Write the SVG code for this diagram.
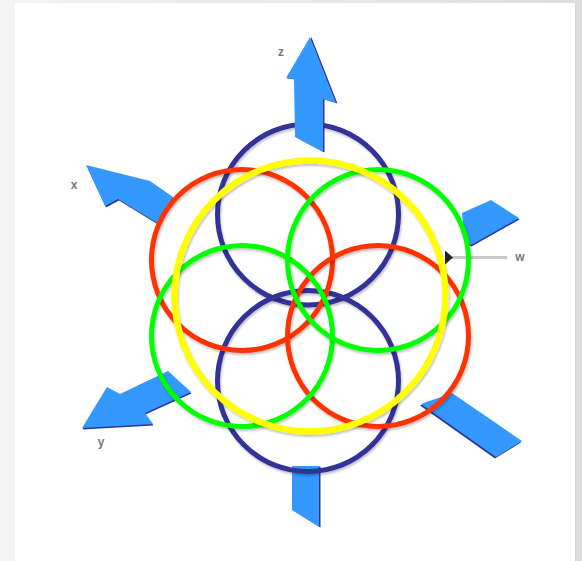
<svg xmlns="http://www.w3.org/2000/svg" xmlns:xlink="http://www.w3.org/1999/xlink" width="582" height="561" viewBox="0 0 582 561">
  <style>
    .ring{fill:none;filter:url(#sh)}
    .navy{stroke:#333399;stroke-width:5}
    .red{stroke:#ff3300;stroke-width:5}
    .green{stroke:#00ff00;stroke-width:5}
    .yellow{stroke:#ffff00;stroke-width:6.5}
    .ab{fill:#3399ff}
    .ad{fill:#333399}
    .lbl{font-family:"Liberation Sans",Arial,sans-serif;font-size:12px;font-weight:bold;fill:#777777;text-anchor:middle}
  </style>
  <defs>
    <linearGradient id="bg" x1="0" y1="0" x2="1" y2="0">
      <stop offset="0" stop-color="#f5f5f5"/>
      <stop offset="1" stop-color="#dddddd"/>
    </linearGradient>
    <filter id="sh" x="-10%" y="-10%" width="120%" height="120%">
      <feDropShadow dx="1" dy="2" stdDeviation="1" flood-color="#000" flood-opacity="0.25"/>
    </filter>
    <marker id="ah" viewBox="0 0 8 14" refX="1" refY="7" markerWidth="8" markerHeight="14" markerUnits="userSpaceOnUse" orient="auto-start-reverse">
      <path d="M0,7 L8,0 L8,14 Z" fill="#222"/>
    </marker>
    <polygon id="pTop" points="310,37 336,103 323,99 323,152 295,137 294,79 286,78"/>
    <polygon id="pX" points="86,165 150,181 173,197 157,223 118,199 105,206"/>
    <polygon id="pW" points="462,213 491,200 519,218 471,245 465,241"/>
    <polygon id="pY" points="82,428 107,387 120,394 168,371 191,392 145,413 153,424"/>
    <polygon id="pDR" points="421,404 452,393 522,441 496,457"/>
    <polygon id="pBot" points="292,466 319,466 319,527 292,510"/>
  </defs>
  <rect x="0" y="0" width="582" height="561" fill="url(#bg)"/>
  <rect x="15" y="3" width="560" height="558" fill="#ffffff"/>
  <line x1="575.5" y1="3" x2="575.5" y2="561" stroke="#d6d6d6" stroke-width="1"/>

  <g id="arrow-x"><use xlink:href="#pX" class="ad" transform="translate(1,1.5)"/><use xlink:href="#pX" class="ab"/></g>
  <g id="arrow-w"><use xlink:href="#pW" class="ad" transform="translate(0.5,1.5)"/><use xlink:href="#pW" class="ab"/></g>
  <g id="arrow-y"><use xlink:href="#pY" class="ad" transform="translate(0.5,1.5)"/><use xlink:href="#pY" class="ab"/></g>
  <g id="arrow-dr"><use xlink:href="#pDR" class="ad" transform="translate(-1,1.5)"/><use xlink:href="#pDR" class="ab"/></g>
  <g id="arrow-bottom"><use xlink:href="#pBot" class="ad" transform="translate(1.5,0.5)"/><use xlink:href="#pBot" class="ab"/></g>

  <g id="connectors">
    <line x1="507" y1="257.5" x2="452" y2="257.5" stroke="#c8c8c8" stroke-width="3" marker-end="url(#ah)"/>
  </g>

  <g id="circle-navy-top"><circle class="ring navy" cx="308" cy="214.5" r="90.5"/></g>
  <g id="circle-navy-bottom"><circle class="ring navy" cx="308" cy="381" r="90.5"/></g>
  <g id="circle-red-left"><circle class="ring red" cx="242" cy="260" r="90.5"/></g>
  <g id="circle-red-right"><circle class="ring red" cx="378" cy="336" r="90.5"/></g>
  <g id="circle-green-left"><circle class="ring green" cx="242" cy="336" r="90.5"/></g>
  <g id="circle-green-right"><circle class="ring green" cx="378" cy="260" r="90.5"/></g>
  <g id="circle-yellow"><circle class="ring yellow" cx="310" cy="296" r="135.5"/></g>

  <g id="arrow-z"><use xlink:href="#pTop" class="ad" transform="translate(1.5,0.5)"/><use xlink:href="#pTop" class="ab"/></g>

  <g id="label-z"><text class="lbl" x="281" y="56">z</text></g>
  <g id="label-x"><text class="lbl" x="74" y="189">x</text></g>
  <g id="label-y"><text class="lbl" x="101" y="446">y</text></g>
  <g id="label-w"><text class="lbl" x="520" y="261">w</text></g>
</svg>
